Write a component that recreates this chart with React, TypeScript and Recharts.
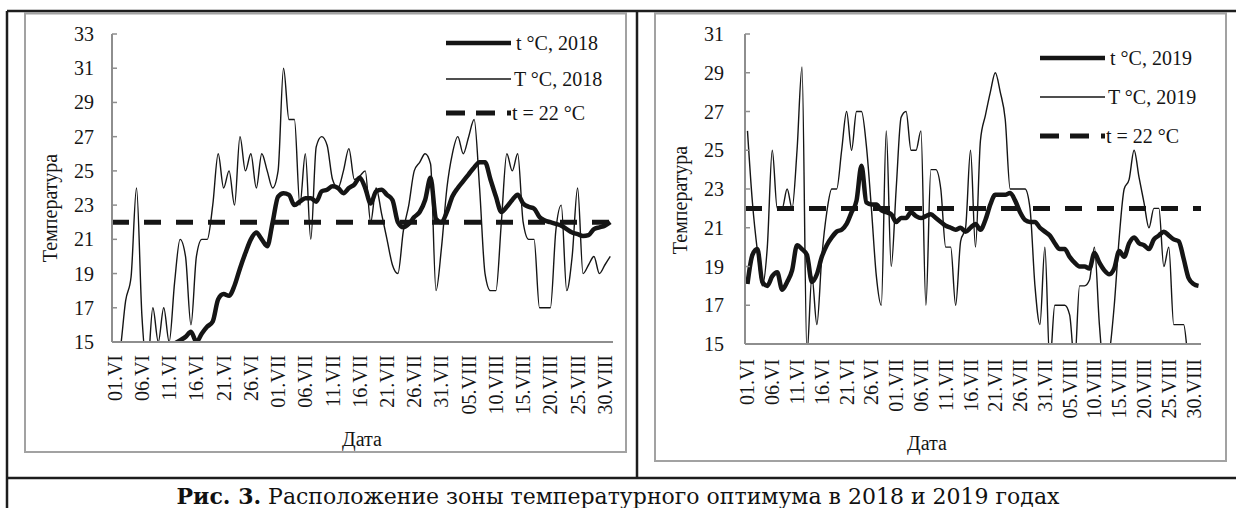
import { LineChart, Line, XAxis, YAxis, ReferenceLine, Legend } from "recharts"

// tick labels on the date axis, one every 5 days (01.VI = day 0)
const dateLabels = [
  "01.VI", "06.VI", "11.VI", "16.VI", "21.VI", "26.VI",
  "01.VII", "06.VII", "11.VII", "16.VII", "21.VII", "26.VII", "31.VII",
  "05.VIII", "10.VIII", "15.VIII", "20.VIII", "25.VIII", "30.VIII",
]

// 2018, 01.VI – 31.VIII (92 days)
const t2018 = [
  12.5, 12.8, 13.1, 13.3, 13.6, 13.8, 14.0, 14.2, 14.4, 14.6,
  14.7, 14.9, 15.1, 15.3, 15.6, 15.0, 15.5, 15.9, 16.2, 17.5,
  17.8, 17.7, 18.3, 19.3, 20.2, 21.0, 21.4, 21.0, 20.6, 22.0,
  23.5, 23.7, 23.6, 23.0, 23.2, 23.4, 23.4, 23.2, 23.8, 23.9,
  24.1, 24.0, 23.7, 24.0, 24.2, 24.6, 24.0, 23.1, 23.8, 23.9,
  23.6, 23.3, 22.0, 21.7, 21.9, 22.3, 22.6, 23.3, 24.6, 22.2,
  22.0, 22.6, 23.5, 24.0, 24.4, 24.8, 25.2, 25.5, 25.5, 24.5,
  23.5, 22.6, 22.9, 23.3, 23.6, 23.1, 22.9, 22.8, 22.3, 22.1,
  22.0, 21.9, 21.8, 21.6, 21.4, 21.3, 21.2, 21.25, 21.6, 21.7,
  21.8, 22.0,
]
const T2018 = [
  13, 14.5, 17.4, 18.8, 24, 16.5, 13.5, 17, 15, 17,
  15, 18.5, 21, 20, 16, 20, 21, 21, 23, 26,
  24, 25, 23, 27, 25, 26, 24, 26, 25, 24,
  25, 31, 28, 28, 23, 26, 21, 26.4, 27, 26.5,
  24.5, 24, 25, 26.3, 24.5, 24.7, 25, 22, 24, 22.5,
  21, 19.5, 19, 21.5, 23, 25, 25.5, 26, 25.4, 18,
  20.5, 24, 26, 27, 26, 27, 28, 24, 19, 18,
  18, 22, 26, 25, 26, 22, 21, 21, 17, 17,
  17, 21.5, 23, 18, 20, 24, 19, 19.5, 20, 19,
  19.5, 20,
]

// 2019, 01.VI – 31.VIII (92 days)
const t2019 = [
  18.1, 19.6, 19.9, 18.2, 18.0, 18.5, 18.7, 17.8, 18.2, 18.8,
  20.1, 19.9, 19.6, 18.2, 18.6, 19.5, 20.1, 20.5, 20.8, 20.9,
  21.2, 21.8, 22.4, 24.2, 22.3, 22.2, 22.2, 21.9, 21.8, 21.7,
  21.3, 21.5, 21.5, 21.8, 21.6, 21.5, 21.6, 21.7, 21.5, 21.3,
  21.1, 21.0, 20.9, 21.0, 20.8, 21.0, 21.2, 20.9, 21.4, 22.2,
  22.7, 22.7, 22.7, 22.8, 22.4, 21.8, 21.4, 21.3, 21.3, 21.0,
  20.8, 20.6, 20.2, 19.9, 19.9, 19.5, 19.2, 19.0, 19.0, 18.9,
  19.7, 19.2, 18.8, 18.6, 18.9, 19.8, 19.5, 20.2, 20.5, 20.2,
  20.1, 19.9, 20.4, 20.6, 20.8, 20.6, 20.4, 20.3, 19.4, 18.4,
  18.1, 18.0,
]
const T2019 = [
  26, 22.3, 19.8, 18, 20, 25, 22, 22, 23, 22,
  25, 29.3, 14.5, 18.5, 16, 19.5, 21.8, 23, 23, 25,
  27, 25, 27, 27, 25.2, 22, 18.5, 17, 26, 19,
  23, 26.7, 27, 25, 25, 26, 17, 24, 24, 23,
  20, 20, 17, 20.3, 21, 25, 20, 25.5, 26.8, 28,
  29, 28, 26.6, 23, 23, 23, 23, 22, 18, 16,
  20, 14, 17, 17, 17, 16.5, 14, 18, 18, 18.3,
  20, 16, 13.5, 14.5, 17, 20.5, 23, 23.5, 25, 23.6,
  22.3, 21, 22, 22, 19, 20, 16, 16, 16, 14,
  13, 12.5,
]

const OPTIMUM = 22
const yTicks2018 = [15, 17, 19, 21, 23, 25, 27, 29, 31, 33]
const yTicks2019 = [15, 17, 19, 21, 23, 25, 27, 29, 31]

const FONT = '"Liberation Serif", "Times New Roman", serif'
const CAPTION_FONT = '"DejaVu Serif", serif'
const INK = "#151515"
const AXIS_GRAY = "#8e8e8e"

const dayTicks = dateLabels.map((_, k) => k * 5)

function rows(thick: number[], thin: number[]) {
  return thick.map((v, i) => ({ day: i, t: v, T: thin[i] }))
}

function makeYTick(gap: number) {
  return (props: any) => {
    const { x, y, payload } = props
    return (
      <g>
        <text x={x} y={y} textAnchor="end" dominantBaseline="central" fontFamily={FONT} fontSize={20} fill={INK}>
          {payload.value}
        </text>
        <line x1={x + gap} x2={x + gap + 5} y1={y} y2={y} stroke={AXIS_GRAY} strokeWidth={1.5} />
      </g>
    )
  }
}

function XTick(props: any) {
  const { x, y, payload } = props
  return (
    <text
      x={x}
      y={y}
      transform={`rotate(-90 ${x} ${y})`}
      textAnchor="end"
      dominantBaseline="central"
      fontFamily={FONT}
      fontSize={20}
      fill={INK}
    >
      {dateLabels[Math.round(payload.value / 5)]}
    </text>
  )
}

function makeLegend(year: number, ys: number[]) {
  const items = [
    { label: `t °C, ${year}`, width: 4.5, dash: undefined as string | undefined, tx: 76 },
    { label: `T °C, ${year}`, width: 1.5, dash: undefined as string | undefined, tx: 74 },
    { label: `t = ${OPTIMUM} °C`, width: 5, dash: "19 11 19 12 4 40", tx: 72 },
  ]
  return () => (
    <svg width={180} height={110} style={{ display: "block" }}>
      {items.map((it, k) => (
        <g key={it.label}>
          <line x1={6} x2={71} y1={ys[k]} y2={ys[k]} stroke={INK} strokeWidth={it.width} strokeDasharray={it.dash} />
          <text x={it.tx} y={ys[k]} dominantBaseline="central" fontFamily={FONT} fontSize={20} fill={INK}>
            {it.label}
          </text>
        </g>
      ))}
    </svg>
  )
}

interface PanelProps {
  year: number
  thick: number[]
  thin: number[]
  yTicks: number[]
  width: number
  margin: { top: number; right: number; left: number; bottom: number }
  yAxisWidth: number
  yGap: number
  xGap: number
  legendPos: { left: number; top: number }
  legendRows: number[]
}

function Panel(p: PanelProps) {
  const data = rows(p.thick, p.thin)
  return (
    <LineChart width={p.width} height={470} data={data} margin={p.margin}>
      <XAxis
        dataKey="day"
        type="number"
        domain={[-0.5, p.thick.length - 0.5]}
        allowDataOverflow
        ticks={dayTicks}
        interval={0}
        height={100}
        tickLine={false}
        tickSize={0}
        tickMargin={p.xGap}
        tick={<XTick />}
        axisLine={{ stroke: AXIS_GRAY, strokeWidth: 2 }}
      />
      <YAxis
        type="number"
        domain={[p.yTicks[0], p.yTicks[p.yTicks.length - 1]]}
        allowDataOverflow
        ticks={p.yTicks}
        interval={0}
        width={p.yAxisWidth}
        tickLine={false}
        tickSize={0}
        tickMargin={p.yGap}
        tick={makeYTick(p.yGap)}
        axisLine={{ stroke: AXIS_GRAY, strokeWidth: 2 }}
      />
      <Legend
        layout="horizontal"
        verticalAlign="middle"
        align="center"
        content={makeLegend(p.year, p.legendRows)}
        wrapperStyle={{ left: p.legendPos.left, top: p.legendPos.top, width: 180, height: 110 }}
      />
      <Line
        type="monotone"
        dataKey="t"
        name={`t °C, ${p.year}`}
        stroke={INK}
        strokeWidth={4.5}
        dot={false}
        activeDot={false}
        isAnimationActive={false}
      />
      <Line
        type="monotone"
        dataKey="T"
        name={`T °C, ${p.year}`}
        stroke={INK}
        strokeWidth={1.4}
        dot={false}
        activeDot={false}
        isAnimationActive={false}
      />
      <ReferenceLine y={OPTIMUM} stroke={INK} strokeWidth={5} strokeDasharray="17 15" />
    </LineChart>
  )
}

export default function App() {
  return (
    <div style={{ position: "absolute", left: 0, top: 0, width: 1236, height: 508, background: "#fff", overflow: "hidden" }}>
      <svg width={1236} height={508} style={{ position: "absolute", left: 0, top: 0 }}>
        <rect x={25} y={13.5} width={601} height={438.5} fill="none" stroke="#a2a2a2" strokeWidth={2} />
        <rect x={655} y={13.5} width={571} height={447.5} fill="none" stroke="#a2a2a2" strokeWidth={2} />
        <path d="M7 11 H1236 M7 11 V508 M637 11 V478 M7 478 H1236" stroke="#1d1d1d" strokeWidth={2.5} fill="none" />
        <text x={50} y={208} transform="rotate(-90 50 208)" textAnchor="middle" dominantBaseline="central" fontFamily={FONT} fontSize={20} fill={INK}>
          Температура
        </text>
        <text x={680} y={200} transform="rotate(-90 680 200)" textAnchor="middle" dominantBaseline="central" fontFamily={FONT} fontSize={20} fill={INK}>
          Температура
        </text>
        <text x={362} y={439} textAnchor="middle" dominantBaseline="central" fontFamily={FONT} fontSize={20} fill={INK}>
          Дата
        </text>
        <text x={927} y={443} textAnchor="middle" dominantBaseline="central" fontFamily={FONT} fontSize={20} fill={INK}>
          Дата
        </text>
        <text x={618} y={504} textAnchor="middle" fontFamily={CAPTION_FONT} fontSize={22} fill="#111">
          <tspan fontWeight="bold">Рис. 3.</tspan> Расположение зоны температурного оптимума в 2018 и 2019 годах
        </text>
      </svg>
      <div style={{ position: "absolute", left: 0, top: 0 }}>
        <Panel
          year={2018}
          thick={t2018}
          thin={T2018}
          yTicks={yTicks2018}
          width={630}
          margin={{ top: 34, right: 17, left: 12, bottom: 28 }}
          yAxisWidth={100}
          yGap={18}
          xGap={13}
          legendPos={{ left: 440, top: 25 }}
          legendRows={[18, 54, 88]}
        />
      </div>
      <div style={{ position: "absolute", left: 640, top: 0 }}>
        <Panel
          year={2019}
          thick={t2019}
          thin={T2019}
          yTicks={yTicks2019}
          width={596}
          margin={{ top: 34, right: 35, left: 10, bottom: 26 }}
          yAxisWidth={95}
          yGap={21}
          xGap={15}
          legendPos={{ left: 394, top: 40 }}
          legendRows={[18, 57, 96]}
        />
      </div>
    </div>
  )
}
